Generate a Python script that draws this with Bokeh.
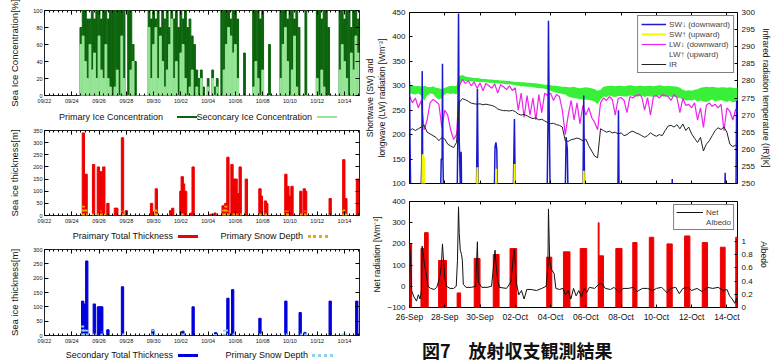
import numpy as np
from bokeh.plotting import figure
from bokeh.models import Range1d, LinearAxis, FixedTicker, Div, Legend, LegendItem
from bokeh.layouts import row, column
from bokeh.embed import file_html
from bokeh.resources import INLINE

# ---------------- left panels: days since 09/22 00:00 ----------------
ice_start_day = 2 + 4 / 6      # first 4-hourly sample (09/24 16:00)
ice_step_day = 1 / 6
ice_primary = [80, 100,
               100, 90, 90, 100, 90, 100,
               100, 90, 100, 100, 90, 100,
               100, 100, 100, 100, 100, 100,
               0, 100, 100, 60, 40, 0,
               0, 0, 0, 0, 100, 90,
               100, 90, 100, 80, 100, 90,
               100, 80, 100, 90, 100, 80,
               100, 90, 100, 80, 90, 70,
               60, 30, 20, 30, 10, 0,
               20, 0, 30, 10, 20, 0,
               100, 100, 100, 100, 90, 100,
               100, 90, 0, 0, 50, 0,
               0, 0, 100, 100, 100, 90,
               100, 0, 0, 60, 0, 0,
               0, 0, 100, 100, 100, 90,
               100, 100, 90, 100, 80, 0,
               0, 100, 0, 0, 0, 0,
               100, 100, 90, 100, 100, 80,
               0, 0, 0, 0, 100, 100,
               90, 100, 100, 80, 100, 100,
               90]
ice_secondary = [60, 70,
                 40, 20, 60, 30, 50, 20,
                 70, 30, 20, 60, 20, 10,
                 0, 10, 30, 0, 70, 20,
                 0, 0, 30, 40, 0, 0,
                 0, 0, 0, 0, 80, 20,
                 60, 80, 20, 70, 40, 10,
                 30, 60, 90, 20, 40, 0,
                 50, 60, 20, 0, 10, 30,
                 0, 10, 0, 20, 0, 0,
                 10, 0, 20, 0, 10, 0,
                 0, 30, 60, 80, 70, 50,
                 60, 20, 0, 0, 0, 0,
                 0, 0, 10, 40, 20, 0,
                 30, 0, 0, 0, 0, 0,
                 0, 0, 20, 60, 80, 40,
                 0, 30, 70, 10, 0, 0,
                 0, 0, 0, 0, 0, 0,
                 20, 0, 30, 10, 0, 0,
                 0, 0, 0, 0, 30, 60,
                 40, 20, 0, 50, 30, 70,
                 50]

thick_p_day = [2.85, 3.05, 3.6, 3.95, 4.05, 4.15, 4.35, 4.65, 5.2, 5.3, 5.72, 6.0, 7.85, 8.2,
               9.25, 9.4, 10.0, 10.1, 10.2, 10.35, 10.75, 10.9, 12.2, 12.5, 13.1, 13.3, 13.45,
               13.75, 13.9, 14.05, 14.2, 14.35, 14.8, 15.8, 15.9, 16.2, 16.3, 17.7, 17.85, 17.95,
               18.15, 18.8, 19.05, 19.15, 20.95, 21.95, 22.1, 22.95]
thick_p_val = [340, 170, 210, 200, 180, 180, 200, 50, 30, 30, 320, 20, 50, 110,
               20, 30, 100, 160, 130, 100, 10, 200, 5, 10, 40, 50, 240,
               210, 150, 150, 90, 200, 150, 110, 80, 60, 50, 170, 120, 80,
               120, 100, 110, 100, 70, 230, 70, 150]
snow_p_day = [2.85, 3.05, 3.6, 4.0, 4.1, 4.35, 5.72, 8.15, 8.25, 10.1, 13.15, 13.3, 13.45,
              13.9, 14.05, 14.35, 15.8, 16.25, 17.7, 17.85, 18.8, 19.1, 21.95, 22.1]
snow_p_val = [40, 30, 10, 15, 20, 10, 20, 30, 20, 10, 30, 40, 20,
              15, 15, 10, 10, 10, 20, 20, 15, 20, 30, 15]
thick_s_day = [2.8, 2.92, 3.1, 3.65, 3.95, 4.1, 4.2, 4.65, 5.72, 7.95, 10.15, 10.9, 12.55,
               13.45, 13.8, 15.8, 17.7, 18.75, 19.1, 20.95, 22.9]
thick_s_val = [120, 110, 260, 110, 100, 100, 100, 20, 170, 20, 15, 100, 10,
               130, 160, 60, 120, 80, 10, 120, 120]
snow_s_day = [2.8, 2.92, 3.1, 3.65, 4.2, 5.72, 7.95, 8.05, 10.15, 12.55, 13.2, 13.35, 13.9,
              15.85, 17.7, 18.8, 19.15, 21.9, 22.05]
snow_s_val = [35, 25, 20, 10, 15, 10, 25, 15, 10, 5, 20, 25, 8,
              12, 10, 10, 15, 15, 10]

left_ticks = [0, 2, 4, 6, 8, 10, 12, 14, 16, 18, 20, 22]
left_labels = ["09/22", "09/24", "09/26", "09/28", "09/30", "10/02", "10/04",
               "10/06", "10/08", "10/10", "10/12", "10/14"]

# ---------------- right panels: days since 26-Sep 00:00 ----------------
rad_step_day = 1 / 6
lw_down = [280, 265, 275, 255, 270, 210,
           230, 265, 272, 268, 262, 215,
           250, 240, 210, 190, 200, 300,
           313, 305, 310, 300, 308, 295,
           306, 290, 305, 300, 295, 304,
           285, 302, 298, 292, 300, 290,
           296, 250, 285, 235, 280, 240,
           275, 230, 282, 245, 285, 280,
           285, 270, 282, 278, 250, 200,
           240, 270, 230, 265, 222, 260,
           240, 255, 235, 225, 210, 265,
           275, 270, 278, 272, 240, 274,
           276, 270, 245, 278, 275, 280,
           282, 278, 250, 276, 240, 278,
           280, 275, 282, 280, 278, 270,
           282, 276, 245, 274, 260, 262,
           255, 265, 230, 255, 215, 260,
           265, 258, 262, 255, 262, 208,
           255, 248, 230, 252, 245]
lw_up_high = [300, 301, 299, 300, 298, 300,
              298, 297, 299, 296, 295, 293,
              296, 298, 300, 299, 300, 320,
              322, 319, 318, 317, 316, 316,
              315, 314, 314, 313, 313, 312,
              312, 311, 311, 310, 310, 309,
              308, 308, 307, 307, 306, 306,
              305, 305, 304, 303, 302, 302,
              301, 300, 300, 299, 298, 298,
              297, 297, 298, 296, 295, 296,
              297, 296, 295, 293, 290, 292,
              298, 299, 300, 300, 299, 300,
              300, 299, 300, 301, 300, 299,
              300, 300, 299, 300, 300, 299,
              300, 301, 300, 299, 300, 299,
              299, 298, 296, 292, 290, 291,
              290, 292, 293, 296, 297, 298,
              297, 298, 297, 296, 297, 297,
              296, 297, 296, 295, 297]
lw_up_low = [285, 283, 282, 284, 280, 270,
             280, 284, 283, 276, 272, 275,
             282, 285, 283, 284, 282, 300,
             312, 310, 310, 309, 309, 308,
             308, 307, 307, 306, 306, 305,
             305, 304, 304, 303, 303, 302,
             301, 300, 299, 299, 298, 298,
             297, 296, 295, 295, 294, 293,
             290, 288, 286, 285, 283, 282,
             278, 276, 275, 274, 273, 272,
             272, 271, 270, 268, 262, 272,
             278, 277, 280, 278, 277, 279,
             279, 278, 278, 280, 279, 278,
             278, 280, 277, 279, 278, 278,
             279, 280, 278, 278, 279, 277,
             278, 276, 275, 272, 270, 271,
             270, 272, 268, 270, 268, 267,
             270, 272, 268, 270, 271, 269,
             267, 270, 266, 268, 270]
ir_temp = [265.5, 266, 265.5, 266, 266.5, 267,
           265, 264.5, 264, 263.5, 262.5, 263.5,
           263, 261.5, 261, 260.5, 262, 273.8,
           274.8, 274.5, 274, 273.5, 273.3, 273.2,
           273.3, 273, 273.2, 273, 272.8, 272.5,
           271.8, 271.5, 271.3, 271.3, 271.2, 271.4,
           271, 270.3, 270, 270.2, 269.8, 269.3,
           269, 269.2, 268.6, 268.8, 268.3, 267.8,
           267.5, 267.6, 267.2, 267, 266.5, 262.5,
           262.3, 262.8, 263, 263.3, 263, 262.5,
           263, 261, 259.5, 258, 257.5, 266,
           265.5, 265, 265.3, 264.8, 265, 264.5,
           264.8, 264, 264.3, 265, 265.3, 264.8,
           264.5, 264, 263.5, 264, 264.8, 264.2,
           263.8, 264.3, 264, 265.5, 266.8, 267,
           266.5, 267.2, 266, 267.4, 265.5, 266.5,
           264.5, 263.2, 262, 263.5, 259.5, 261.5,
           262.5, 264, 265.5, 266.3, 265.8, 266.5,
           265, 261.5, 260.8, 261.2, 260.5]
sw_down_day = [0.0, 0.03, 0.1, 0.6, 0.7, 0.72, 0.75, 0.85, 1.72, 1.8, 1.85, 1.87, 1.9, 1.98,
               2.68, 2.74, 2.78, 2.82, 2.88, 2.93, 2.98, 3.78, 3.85, 3.92, 4.78, 4.85, 4.9, 4.95,
               5.02, 5.85, 5.95, 6.03, 7.78, 7.85, 7.88, 7.92, 8.0, 8.8, 8.88, 8.95, 9.02,
               9.82, 9.88, 9.95, 11.8, 11.85, 11.9, 14.85, 14.9, 14.95, 17.85, 17.9, 17.95,
               18.5, 18.55, 18.6]
sw_down_val = [310, 180, 0, 0, 150, 330, 120, 0, 0, 150, 150, 345, 140, 0,
               0, 195, 448, 190, 100, 165, 0, 0, 294, 0, 0, 175, 184, 170,
               0, 0, 232, 0, 0, 220, 433, 250, 0, 0, 195, 170, 0,
               0, 280, 0, 0, 250, 0, 0, 109, 0, 0, 122, 0,
               0, 270, 240]
sw_up_day = [0.68, 0.75, 0.82, 0.9, 3.78, 3.85, 3.9, 4.85, 4.92, 4.98, 5.9, 5.96, 6.02,
             9.82, 9.88, 9.94]
sw_up_val = [0, 160, 150, 0, 0, 133, 0, 0, 130, 0, 0, 140, 0, 0, 126, 0]

net_day = [0.0, 0.05, 0.12, 0.25, 0.4, 0.5, 0.6, 0.68, 0.72, 0.78, 0.85, 0.95, 1.05, 1.2, 1.4,
           1.55, 1.7, 1.8, 1.87, 1.93, 2.0, 2.1, 2.3, 2.5, 2.65, 2.72, 2.78, 2.82, 2.88, 2.95,
           3.0, 3.05, 3.2, 3.5, 3.75, 3.85, 3.9, 4.1, 4.4, 4.65, 4.75, 4.85, 4.9, 5.0, 5.1,
           5.5, 5.75, 5.9, 5.95, 6.05, 6.2, 6.35, 6.5, 6.65, 6.9, 7.2, 7.5, 7.75, 7.85, 7.88,
           7.95, 8.05, 8.2, 8.3, 8.5, 8.7, 8.85, 9.0, 9.15, 9.3, 9.45, 9.6, 9.75, 9.9, 10.05,
           10.2, 10.5, 10.8, 10.95, 11.1, 11.4, 11.6, 11.9, 12.1, 12.4, 12.7, 12.9, 13.2, 13.5,
           13.8, 14.0, 14.3, 14.6, 14.8, 15.1, 15.3, 15.5, 15.8, 16.0, 16.3, 16.6, 16.9, 17.2,
           17.5, 17.8, 18.0, 18.15, 18.3, 18.45, 18.55, 18.6]
net_val = [200, 150, -20, -50, -70, -40, -60, -20, 190, 150, 100, 60, 0, -10, -15,
           -5, 40, 90, 200, 120, 40, 0, -10, -10, 0, 120, 375, 250, 170, 150,
           120, 10, -5, -5, 0, 210, 20, -5, -5, 0, 80, 170, 110, 30, -5,
           -10, 20, 150, 175, 20, -40, -20, -60, -15, -15, -20, -10, 0, 100, 365,
           120, 80, 60, -10, -15, -10, -40, -20, -60, -10, -45, -20, -50, -10, -30,
           -5, -10, 15, 10, -10, -15, -5, -30, -10, -10, -5, -25, -10, -10,
           -20, -10, -5, -30, -10, -5, -35, -10, -5, -20, -10, -25, -5, -10,
           -5, -20, -15, -45, -60, -80, -55, -90]
alb_start = [0.0, 0.65, 0.85, 1.65, 2.7, 3.67, 4.75, 5.7, 7.78, 8.73, 9.68, 10.7, 10.75,
             11.7, 12.66, 13.6, 14.6, 15.6, 16.6, 17.63, 18.5]
alb_end = [0.12, 0.85, 1.06, 2.1, 2.9, 4.0, 5.08, 6.08, 8.07, 9.1, 10.05, 10.75, 11.0,
           12.05, 12.9, 13.85, 14.9, 15.9, 16.9, 17.9, 18.6]
alb_top = [0.96, 0.89, 1.13, 0.71, 0.22, 0.74, 0.8, 0.89, 0.76, 0.84, 0.89, 1.28, 0.78,
           0.89, 0.98, 1.06, 0.96, 1.08, 0.98, 0.91, 1.06]

right_ticks = [0, 2, 4, 6, 8, 10, 12, 14, 16, 18]
right_labels = ["26-Sep", "28-Sep", "30-Sep", "02-Oct", "04-Oct", "06-Oct", "08-Oct",
                "10-Oct", "12-Oct", "14-Oct"]

FONT = "Liberation Sans"


def style_axis(ax, ticks, labels=None, size="5.5px", minor=None, tick_in=4, hide=False,
               standoff=2):
    ax.ticker = FixedTicker(ticks=ticks, minor_ticks=minor or [])
    ax.axis_line_color = None
    ax.major_tick_in = tick_in
    ax.major_tick_out = 0
    ax.minor_tick_in = 2
    ax.minor_tick_out = 0
    ax.major_tick_line_color = "black"
    ax.minor_tick_line_color = "black"
    ax.major_label_text_font = FONT
    ax.axis_label_text_font = FONT
    ax.axis_label_text_font_style = "normal"
    ax.axis_label_text_color = "#111111"
    if hide:
        ax.major_label_text_color = None
        ax.major_label_text_font_size = "1px"
        ax.major_label_standoff = 0
    else:
        ax.major_label_text_color = "#111111"
        ax.major_label_text_font_size = size
        ax.major_label_standoff = standoff
    if labels:
        ax.major_label_overrides = dict(zip(ticks, labels))


def left_panel(h, top, bottom, ymax, ystep, ylabel):
    p = figure(width=362, height=h, x_range=Range1d(0, 23.1), y_range=Range1d(0, ymax),
               output_backend="svg", toolbar_location=None,
               min_border_left=44, min_border_right=3, min_border_top=top,
               min_border_bottom=bottom)
    p.xgrid.visible = False
    p.ygrid.visible = False
    p.outline_line_color = "#222222"
    minor = [d + f for d in range(0, 24) for f in (1 / 3, 2 / 3, 1.0)
             if d + f < 23.1 and (d + f) % 2 != 0]
    style_axis(p.xaxis[0], left_ticks, left_labels, minor=minor)
    yt = list(range(0, ymax + 1, ystep))
    style_axis(p.yaxis[0], yt)
    p.yaxis[0].axis_label = ylabel
    p.yaxis[0].axis_label_text_font_size = "9.5px"
    p.yaxis[0].axis_label_standoff = 10
    ta = LinearAxis()
    style_axis(ta, left_ticks, minor=minor, hide=True)
    p.add_layout(ta, "above")
    ra = LinearAxis()
    style_axis(ra, yt, hide=True)
    p.add_layout(ra, "right")
    return p


def legend_div(entries, height):
    parts = ['<div style="position:relative;width:362px;height:%dpx;overflow:hidden">' % height]
    for kind, a, b, style in entries:
        if kind == "text":
            parts.append('<span style="position:absolute;right:%dpx;top:0px;line-height:%dpx;'
                         'font-family:\'Liberation Sans\';font-size:9px;color:#111;'
                         'white-space:nowrap">%s</span>' % (a, height, b))
        else:
            parts.append('<span style="position:absolute;left:%dpx;top:%dpx;width:%dpx;'
                         'height:0px;border-top:%s"></span>' % (a, height // 2 - 1, b, style))
    parts.append('</div>')
    return Div(text="".join(parts), width=362, height=height, margin=0)


# ---- panel 1: ice concentration
p1 = left_panel(109, 10, 14, 100, 20, "Sea Ice Concentration[%]")
ice_day = ice_start_day + np.arange(len(ice_primary)) * ice_step_day
p1.vbar(x=ice_day, top=ice_primary, width=ice_step_day * 0.78, color="#0b640b")
p1.vbar(x=ice_day, top=ice_secondary, width=ice_step_day * 0.78, color="#98e698")
d1 = legend_div([("text", 199, "Primary Ice Concentration", None),
                 ("line", 177, 20, "2px solid #0b640b"),
                 ("text", 50, "Seconcary Ice Concentration", None),
                 ("line", 317, 20, "2px solid #98e698")], 16)

# ---- panel 2: primary thickness
p2 = left_panel(104, 5, 14, 350, 50, "Sea ice thickness[m]")
p2.vbar(x=thick_p_day, top=thick_p_val, width=0.17, color="#ee0000")
p2.segment(x0=snow_p_day, y0=0, x1=snow_p_day, y1=snow_p_val, color="#f0a800",
           line_width=3, line_dash="2 2")
d2 = legend_div([("text", 189, "Praimary Total Thickness", None),
                 ("line", 178, 20, "3px solid #ee0000"),
                 ("text", 59, "Primary Snow Depth", None),
                 ("line", 308, 20, "3px dotted #f0a800")], 14)

# ---- panel 3: secondary thickness
p3 = left_panel(105, 6, 13, 300, 50, "Sea ice thickness[m]")
p3.vbar(x=thick_s_day, top=thick_s_val, width=0.17, color="#0000dd")
p3.segment(x0=snow_s_day, y0=0, x1=snow_s_day, y1=snow_s_val, color="#8fd0ee",
           line_width=3, line_dash="2 2")
d3 = legend_div([("text", 189, "Secondary Total Thickness", None),
                 ("line", 178, 20, "3px solid #0000dd"),
                 ("text", 54, "Primary Snow Depth", None),
                 ("line", 312, 21, "3px dotted #8fd0ee")], 15)

# ---- panel A: radiation
rad_day = np.arange(len(lw_down)) * rad_step_day
pA = figure(width=414, height=187, x_range=Range1d(0, 18.6), y_range=Range1d(100, 450),
            output_backend="svg", toolbar_location=None,
            min_border_left=46, min_border_right=39, min_border_top=12, min_border_bottom=4)
pA.xgrid.visible = False
pA.ygrid.visible = False
pA.outline_line_color = "black"
pA.extra_y_ranges = {"ir": Range1d(250, 300)}
style_axis(pA.xaxis[0], right_ticks, hide=True, tick_in=3)
style_axis(pA.yaxis[0], list(range(100, 451, 50)), size="8px", tick_in=3, standoff=4)
pA.yaxis[0].axis_label = "Shortwave (SW) and\nlongwave (LW) radiation [Wm\u207b\u00b2]"
pA.yaxis[0].axis_label_text_font_size = "8.5px"
pA.yaxis[0].axis_label_standoff = 2
ax_top = LinearAxis()
style_axis(ax_top, right_ticks, hide=True, tick_in=3)
pA.add_layout(ax_top, "above")
ax_ir = LinearAxis(y_range_name="ir")
style_axis(ax_ir, list(range(250, 301, 5)), size="8px", tick_in=3, standoff=4)
ax_ir.axis_label = "Infrared radiation temperature (IR)[K]"
ax_ir.axis_label_text_font_size = "8.5px"
ax_ir.axis_label_standoff = 3
pA.add_layout(ax_ir, "right")

pA.varea(x=rad_day, y1=lw_up_low, y2=lw_up_high, color="#22ee22", alpha=0.9)
r_lwd = pA.line(rad_day, lw_down, color="#ee22ee", line_width=1.2)
r_swd = pA.line(sw_down_day, sw_down_val, color="#1a1acc", line_width=1.5)
r_swu = pA.line(sw_up_day, sw_up_val, color="#f5f500", line_width=2)
r_ir = pA.line(rad_day, ir_temp, color="#222222", line_width=1, y_range_name="ir")
r_lwu = pA.line(x=[], y=[], color="#22ee22", line_width=1)
legA = Legend(items=[LegendItem(label="SW\u2193 (downward)", renderers=[r_swd]),
                     LegendItem(label="SW\u2191 (upward)", renderers=[r_swu]),
                     LegendItem(label="LW\u2193 (downward)", renderers=[r_lwd]),
                     LegendItem(label="LW\u2191 (upward)", renderers=[r_lwu]),
                     LegendItem(label="IR", renderers=[r_ir])],
              location="top_right", margin=3, padding=3, spacing=0,
              label_text_font=FONT, label_text_font_size="8px", label_height=10,
              glyph_height=10, glyph_width=25, label_standoff=3,
              border_line_color="black", border_line_width=1, background_fill_alpha=1)
pA.add_layout(legA)

# ---- panel B: net radiation and albedo
pB = figure(width=414, height=137, x_range=pA.x_range, y_range=Range1d(-100, 400),
            output_backend="svg", toolbar_location=None,
            min_border_left=46, min_border_right=39, min_border_top=14, min_border_bottom=16)
pB.xgrid.visible = False
pB.ygrid.visible = False
pB.outline_line_color = "black"
pB.extra_y_ranges = {"alb": Range1d(0, 1.6)}
style_axis(pB.xaxis[0], right_ticks, right_labels, size="8.5px", tick_in=3, standoff=4)
style_axis(pB.yaxis[0], list(range(-100, 401, 100)), size="8px", tick_in=3, standoff=4)
pB.yaxis[0].axis_label = "Net radiation [Wm\u207b\u00b2]"
pB.yaxis[0].axis_label_text_font_size = "8.5px"
pB.yaxis[0].axis_label_standoff = 2
bt = LinearAxis()
style_axis(bt, right_ticks, hide=True, tick_in=3)
pB.add_layout(bt, "above")
alb_ticks = [0, 0.2, 0.4, 0.6, 0.8, 1]
ax_alb = LinearAxis(y_range_name="alb")
style_axis(ax_alb, alb_ticks, ["0", "0.2", "0.4", "0.6", "0.8", "1"], size="8px",
           tick_in=3, standoff=4)
ax_alb.axis_label = "Albedo"
ax_alb.axis_label_text_font_size = "8.5px"
ax_alb.axis_label_standoff = 3
pB.add_layout(ax_alb, "right")

pB.quad(left=alb_start, right=alb_end, bottom=0, top=alb_top, color="#ee0000",
        y_range_name="alb")
r_net = pB.line(net_day, net_val, color="#111111", line_width=1)
r_alb = pB.line(x=[], y=[], color="#ee0000", line_width=1)
legB = Legend(items=[LegendItem(label="Net", renderers=[r_net]),
                     LegendItem(label="Albedo", renderers=[r_alb])],
              location="top_right", margin=3, padding=2, spacing=0,
              label_text_font=FONT, label_text_font_size="8px", label_height=10,
              glyph_height=10, glyph_width=27, label_standoff=3,
              border_line_color="black", border_line_width=1, background_fill_alpha=1)
pB.add_layout(legB)

caption = Div(text='<div style="padding-left:60px;padding-top:17px;font-family:\'Noto Sans CJK JP\';'
                   'font-weight:bold;font-size:18px;line-height:18px;white-space:nowrap;color:#111">'
                   '図7\u3000放射収支観測結果</div>', width=414, height=39, margin=0)

layout = row(column(p1, d1, p2, d2, p3, d3), column(pA, pB, caption))
open("out.html", "w").write(file_html(layout, INLINE))
